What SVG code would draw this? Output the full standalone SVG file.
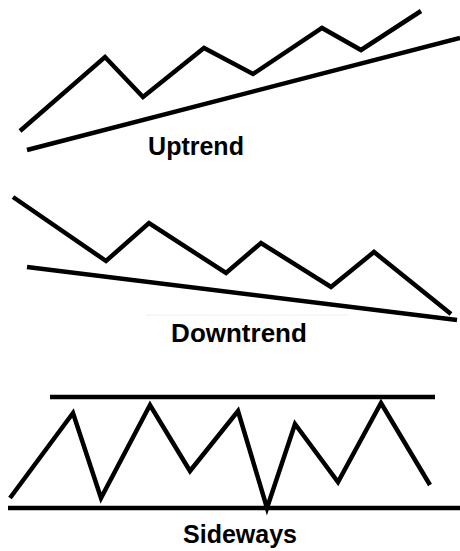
<svg xmlns="http://www.w3.org/2000/svg" width="460" height="551" viewBox="0 0 460 551">
<style>
.ln{fill:none;stroke:#000;stroke-width:4.5;stroke-linejoin:miter;stroke-linecap:butt}
.lb{font-family:"Liberation Sans",Arial,sans-serif;font-weight:bold;font-size:25px;fill:#000;text-anchor:middle}
</style>
<rect width="460" height="551" fill="#fff"/>
<g id="connectors">
<polyline class="ln" points="20,131 105,57 143,97 204,48 253,74 322,28 361,50 421,11"/>
<line class="ln" x1="27" y1="150" x2="460" y2="38"/>
<polyline class="ln" points="13,197 106,261 149,223 226,273 261,243 331,287 374,252 451,314"/>
<line class="ln" x1="27" y1="267" x2="457" y2="320"/>
<line x1="146" y1="315" x2="348" y2="315" stroke="#eee" stroke-width="1"/>
<line class="ln" x1="50" y1="397" x2="435" y2="397"/>
<line class="ln" x1="8" y1="508" x2="460" y2="508"/>
<polyline class="ln" points="10,498 73,413 101,498 150,405 190,471 238,411 267,508 295,424 338,482 381,403 430,485"/>
</g>
<g id="uptrend"><text class="lb" x="196" y="155">Uptrend</text></g>
<g id="downtrend"><text class="lb" x="239" y="342" style="font-size:26px">Downtrend</text></g>
<g id="sideways"><text class="lb" x="240" y="543">Sideways</text></g>
</svg>
